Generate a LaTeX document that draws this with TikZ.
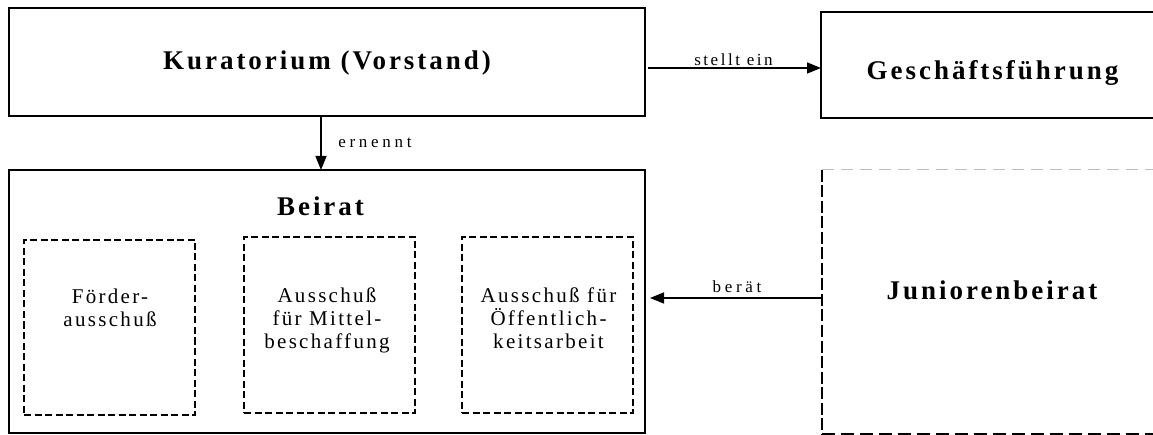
\documentclass[tikz,border=0pt]{standalone}
\usepackage{fontspec}
\setmainfont{Liberation Serif}
\newfontfamily\bigfont[LetterSpace=11]{Liberation Serif}
\newfontfamily\lblfont[LetterSpace=22]{Liberation Serif}
\newfontfamily\lblfontb[LetterSpace=15]{Liberation Serif}
\newfontfamily\innfont[LetterSpace=11]{Liberation Serif}
\usetikzlibrary{arrows.meta}
\begin{document}
\begin{tikzpicture}[x=1pt,y=-1pt,
  box/.style={draw=black, line width=1.5pt, inner sep=0pt, outer sep=0pt},
  subbox/.style={draw=black, line width=2.2pt, dash pattern=on 7pt off 3.5pt, inner sep=0pt, outer sep=0pt},
  ghost/.style={inner sep=0pt, outer sep=0pt},
  titletext/.style={font=\bigfont\bfseries\fontsize{27}{32}\selectfont, inner sep=0pt, anchor=base},
  lbl/.style={font=\lblfont\fontsize{17}{20}\selectfont, inner sep=0pt, anchor=base},
  innertext/.style={font=\innfont\fontsize{21}{23}\selectfont, align=center, inner sep=0pt},
  arr/.style={line width=1.5pt, -{Triangle[length=14pt,width=11pt]}},
  jleft/.style={line width=2.8pt, dash pattern=on 12pt off 3.5pt},
  jtop/.style={line width=1pt, draw={rgb,255:red,190;green,190;blue,190}, dash pattern=on 12pt off 7pt},
  jbot/.style={line width=1.8pt, dash pattern=on 13pt off 6pt},
]
\useasboundingbox (0,0) rectangle (1153,435);
\fill[white] (0,0) rectangle (1153,435);

% boxes
\node[box, minimum width=636pt, minimum height=108pt] (kur) at (327,62) {};
\node[box, minimum width=345pt, minimum height=106pt] (gf) at (993.5,65) {};
\node[box, minimum width=636pt, minimum height=263pt] (beirat) at (327,301.5) {};
\node[ghost, minimum width=340pt, minimum height=264pt] (jb) at (992,302) {};
\draw[jleft] (jb.north west) -- (jb.south west);
\draw[jtop] (jb.north west) -- (jb.north east);
\draw[jbot] (jb.south west) -- (jb.south east);

\node[subbox, minimum width=171pt, minimum height=175pt] (s1) at (109.5,327.5) {};
\node[subbox, minimum width=171pt, minimum height=176pt] (s2) at (329.5,325) {};
\node[subbox, minimum width=171pt, minimum height=176pt] (s3) at (547.5,325) {};

% titles
\node[titletext] (tkur) at (327,70) {Kuratorium (Vorstand)};
\node[titletext] (tgf) at (992.5,80) {Geschäftsführung};
\node[titletext] (tbei) at (320.5,216) {Beirat};
\node[titletext] (tjb) at (992,300) {Juniorenbeirat};

% inner texts
\node[innertext] (i1) at (110,308) {Förder-\\ausschuß};
\node[innertext] (i2) at (327,320) {Ausschuß\\für Mittel-\\beschaffung};
\node[innertext] (i3) at (548.5,318) {Ausschuß für\\Öffentlich-\\keitsarbeit};

% connectors
\draw[arr] ([xshift=3pt,yshift=-6pt]kur.east) -- ([yshift=-6pt]kur.east -| gf.west);
\draw[arr] ([xshift=-6pt]kur.south) -- ([xshift=-6pt]kur.south |- beirat.north);
\draw[arr] ([yshift=4pt]jb.west) -- ([xshift=5pt,yshift=4pt]jb.west -| beirat.east);

% connector labels
\node[lbl, font=\lblfontb\fontsize{17}{20}\selectfont] (lse) at (733.5,66) {stellt ein};
\node[lbl] (lern) at (375,148) {ernennt};
\node[lbl] (lber) at (737,292.5) {berät};
\end{tikzpicture}
\end{document}
